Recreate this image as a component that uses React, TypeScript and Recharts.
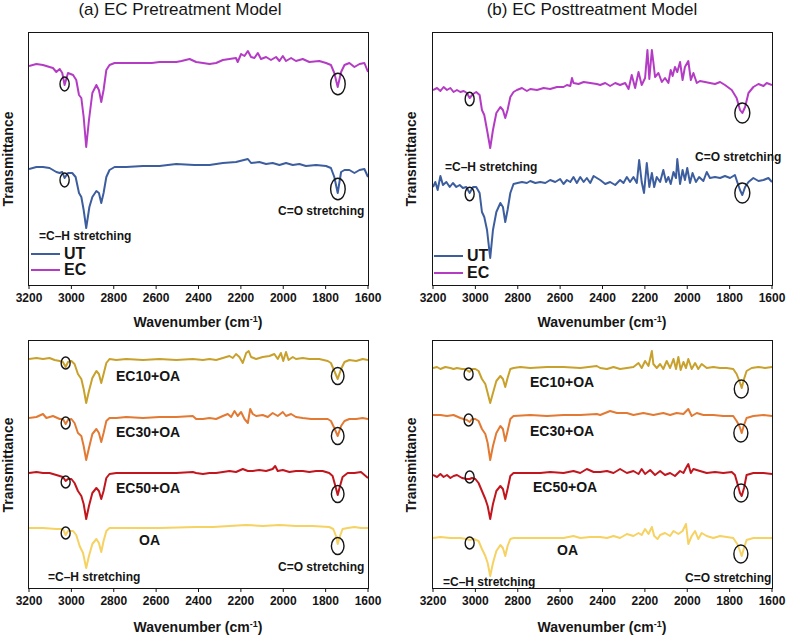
import React from 'react'
import { LineChart, Line, XAxis, YAxis, ReferenceDot } from 'recharts'

// FTIR spectra, wavenumber (cm-1) vs. stacked transmittance (a.u., offset per trace)
const TICKS = [3200, 3000, 2800, 2600, 2400, 2200, 2000, 1800, 1600]

// (a) pretreatment, upper panel
const UT_A: [number, number][] = [
  [3200, 116], [3165, 118], [3134, 118], [3103, 117], [3071, 113], [3055, 112], [3043, 113], [3032, 107],
  [3016, 112], [2996, 112], [2980, 108], [2964, 92], [2953, 88], [2942, 75], [2930, 57], [2915, 78],
  [2901, 88], [2882, 94], [2870, 92], [2859, 82], [2848, 92], [2835, 108], [2820, 115], [2796, 118],
  [2741, 118], [2662, 119], [2584, 119], [2505, 121], [2420, 120], [2348, 120], [2285, 122], [2223, 123],
  [2167, 126], [2152, 122], [2113, 123], [2081, 121], [2050, 122], [2018, 120], [1987, 122], [1955, 120],
  [1924, 121], [1893, 119], [1845, 120], [1798, 119], [1775, 117], [1759, 108], [1743, 92], [1727, 113],
  [1711, 115], [1688, 115], [1664, 112], [1640, 115], [1617, 116], [1600, 108],
]
const EC_A: [number, number][] = [
  [3200, 219], [3165, 221], [3134, 220], [3103, 218], [3087, 217], [3071, 213], [3055, 216], [3043, 212],
  [3032, 200], [3016, 212], [2992, 210], [2977, 205], [2964, 190], [2953, 187], [2942, 168], [2930, 138],
  [2917, 165], [2901, 192], [2882, 200], [2870, 195], [2859, 183], [2848, 195], [2835, 215], [2820, 220],
  [2796, 222], [2741, 222], [2662, 222], [2620, 222], [2584, 223], [2505, 223], [2480, 224], [2442, 226],
  [2411, 223], [2379, 222], [2348, 221], [2317, 222], [2285, 225], [2254, 226], [2223, 227], [2215, 223],
  [2199, 231], [2183, 229], [2167, 234], [2152, 228], [2136, 227], [2120, 232], [2105, 226], [2081, 228],
  [2058, 225], [2034, 228], [2018, 224], [2002, 229], [1987, 224], [1963, 227], [1940, 224], [1908, 226],
  [1877, 223], [1830, 224], [1798, 222], [1775, 220], [1759, 212], [1743, 198], [1727, 213], [1711, 220],
  [1688, 222], [1664, 218], [1640, 221], [1617, 222], [1600, 213],
]

// (b) posttreatment, upper panel
const UT_B: [number, number][] = [
  [3200, 98], [3189, 103], [3178, 95], [3165, 109], [3153, 100], [3137, 103], [3121, 98], [3106, 102],
  [3090, 98], [3074, 100], [3059, 97], [3043, 98], [3027, 92], [3011, 98], [2996, 98], [2980, 92],
  [2969, 73], [2958, 68], [2945, 55], [2930, 27], [2917, 55], [2901, 73], [2882, 82], [2870, 78],
  [2859, 63], [2848, 75], [2835, 92], [2820, 101], [2801, 102], [2780, 103], [2757, 102], [2741, 104],
  [2717, 102], [2694, 103], [2670, 102], [2647, 105], [2623, 103], [2600, 106], [2584, 101], [2568, 105],
  [2552, 103], [2537, 108], [2521, 102], [2505, 108], [2489, 103], [2474, 107], [2458, 102], [2442, 109],
  [2411, 105], [2387, 101], [2364, 103], [2340, 100], [2317, 105], [2301, 102], [2285, 108], [2270, 103],
  [2254, 108], [2238, 102], [2227, 125], [2215, 103], [2204, 92], [2191, 122], [2179, 98], [2167, 112],
  [2156, 98], [2144, 108], [2128, 103], [2113, 115], [2100, 103], [2089, 108], [2078, 101], [2065, 113],
  [2053, 107], [2047, 126], [2034, 101], [2022, 115], [2011, 105], [2000, 117], [1987, 102], [1975, 112],
  [1959, 103], [1944, 108], [1924, 104], [1908, 113], [1893, 107], [1869, 108], [1845, 107], [1822, 109],
  [1798, 107], [1775, 110], [1764, 103], [1751, 95], [1740, 90], [1727, 98], [1711, 103], [1688, 107],
  [1664, 104], [1640, 105], [1617, 107], [1600, 103],
]
const EC_B: [number, number][] = [
  [3200, 195], [3181, 197], [3165, 194], [3150, 198], [3134, 195], [3118, 197], [3103, 193], [3087, 195],
  [3071, 193], [3055, 194], [3040, 192], [3027, 187], [3011, 191], [2996, 193], [2980, 190], [2969, 175],
  [2958, 170], [2945, 155], [2930, 137], [2917, 155], [2901, 172], [2882, 178], [2870, 175], [2859, 167],
  [2848, 175], [2835, 188], [2820, 193], [2804, 195], [2780, 197], [2757, 194], [2741, 196], [2709, 195],
  [2678, 197], [2647, 196], [2615, 198], [2584, 198], [2568, 200], [2552, 199], [2544, 207], [2537, 202],
  [2513, 201], [2489, 203], [2458, 202], [2427, 201], [2411, 200], [2387, 202], [2364, 199], [2340, 202],
  [2317, 200], [2293, 202], [2277, 196], [2262, 210], [2246, 197], [2230, 213], [2215, 200], [2199, 207],
  [2188, 235], [2179, 206], [2167, 235], [2160, 223], [2152, 208], [2136, 212], [2120, 203], [2105, 207],
  [2089, 202], [2078, 215], [2069, 209], [2058, 218], [2047, 213], [2034, 223], [2022, 205], [2011, 218],
  [1995, 224], [1983, 205], [1971, 212], [1955, 202], [1940, 204], [1916, 203], [1893, 202], [1869, 201],
  [1845, 203], [1822, 200], [1790, 195], [1767, 187], [1751, 175], [1740, 172], [1727, 178], [1711, 192],
  [1688, 198], [1664, 201], [1640, 199], [1625, 202], [1600, 200],
]

// (a) pretreatment, lower panel (EC + oleic acid blends)
const EC10_A: [number, number][] = [
  [3200, 229], [3165, 230], [3134, 229], [3103, 230], [3079, 228], [3055, 227], [3040, 226], [3027, 221],
  [3016, 226], [3000, 227], [2985, 224], [2969, 214], [2953, 209], [2942, 199], [2930, 185], [2917, 197],
  [2901, 210], [2882, 217], [2870, 214], [2859, 205], [2848, 214], [2835, 225], [2820, 229], [2788, 228],
  [2741, 229], [2662, 228], [2584, 229], [2505, 228], [2427, 229], [2379, 228], [2348, 229], [2317, 228],
  [2285, 230], [2254, 232], [2238, 230], [2223, 234], [2207, 231], [2191, 225], [2175, 235], [2163, 237],
  [2152, 231], [2128, 229], [2097, 231], [2065, 232], [2042, 234], [2026, 229], [2011, 235], [2000, 227],
  [1987, 236], [1975, 228], [1955, 231], [1940, 229], [1908, 230], [1877, 229], [1830, 229], [1790, 227],
  [1775, 225], [1759, 217], [1743, 209], [1727, 219], [1711, 226], [1688, 228], [1656, 227], [1625, 229],
  [1600, 228],
]
const EC30_A: [number, number][] = [
  [3200, 170], [3165, 171], [3134, 174], [3118, 170], [3087, 172], [3055, 169], [3040, 169], [3027, 164],
  [3016, 168], [3000, 169], [2985, 165], [2969, 155], [2953, 152], [2942, 142], [2930, 128], [2917, 140],
  [2901, 154], [2882, 159], [2870, 155], [2859, 146], [2848, 155], [2835, 167], [2820, 170], [2788, 170],
  [2741, 171], [2662, 170], [2584, 171], [2505, 171], [2427, 172], [2411, 169], [2379, 169], [2348, 170],
  [2317, 169], [2285, 172], [2262, 174], [2246, 171], [2230, 177], [2215, 172], [2199, 176], [2183, 169],
  [2167, 165], [2156, 179], [2144, 174], [2128, 172], [2097, 173], [2073, 171], [2050, 175], [2026, 172],
  [2002, 176], [1987, 172], [1963, 174], [1940, 171], [1908, 170], [1869, 169], [1830, 169], [1790, 169],
  [1775, 167], [1759, 160], [1743, 152], [1727, 162], [1711, 167], [1688, 169], [1656, 169], [1625, 170],
  [1600, 169],
]
const EC50_A: [number, number][] = [
  [3200, 115], [3165, 116], [3134, 115], [3103, 115], [3071, 113], [3040, 111], [3027, 107], [3016, 109],
  [3000, 109], [2985, 105], [2969, 97], [2953, 92], [2942, 84], [2930, 69], [2917, 82], [2901, 95],
  [2882, 100], [2870, 97], [2859, 89], [2848, 97], [2835, 110], [2820, 114], [2788, 115], [2741, 115],
  [2662, 115], [2584, 115], [2505, 115], [2427, 116], [2411, 115], [2379, 114], [2348, 115], [2317, 115],
  [2285, 116], [2254, 117], [2223, 116], [2191, 119], [2167, 117], [2144, 117], [2113, 118], [2081, 117],
  [2050, 119], [2038, 122], [2026, 117], [2002, 118], [1971, 116], [1940, 117], [1908, 117], [1877, 116],
  [1845, 117], [1814, 117], [1783, 115], [1767, 112], [1754, 102], [1743, 93], [1732, 102], [1720, 111],
  [1696, 115], [1664, 115], [1633, 116], [1600, 110],
]
const OA_A: [number, number][] = [
  [3200, 60], [3134, 60], [3071, 59], [3040, 59], [3027, 53], [3016, 57], [2992, 57], [2977, 53],
  [2961, 42], [2945, 35], [2930, 20], [2917, 32], [2901, 44], [2882, 49], [2870, 45], [2859, 36],
  [2848, 47], [2835, 57], [2820, 60], [2741, 60], [2584, 60], [2411, 61], [2332, 61], [2254, 62],
  [2175, 63], [2097, 62], [2018, 63], [1940, 62], [1861, 62], [1783, 61], [1764, 59], [1751, 52],
  [1743, 44], [1732, 52], [1720, 59], [1696, 60], [1664, 61], [1633, 60], [1600, 60],
]

// (b) posttreatment, lower panel
const EC10_B: [number, number][] = [
  [3200, 220], [3181, 221], [3165, 219], [3142, 221], [3118, 220], [3103, 219], [3087, 220], [3063, 219],
  [3048, 219], [3027, 216], [3016, 219], [3000, 219], [2985, 217], [2969, 209], [2953, 204], [2942, 195],
  [2930, 185], [2917, 195], [2901, 207], [2882, 212], [2870, 209], [2859, 201], [2848, 210], [2835, 219],
  [2820, 220], [2788, 221], [2741, 220], [2662, 221], [2584, 221], [2505, 220], [2427, 222], [2411, 220],
  [2379, 219], [2348, 221], [2317, 219], [2285, 220], [2254, 221], [2230, 225], [2215, 220], [2199, 227],
  [2183, 222], [2167, 237], [2160, 224], [2144, 220], [2128, 224], [2113, 219], [2097, 227], [2081, 220],
  [2065, 229], [2053, 219], [2042, 231], [2031, 218], [2018, 226], [2006, 220], [1995, 229], [1979, 219],
  [1963, 225], [1948, 219], [1932, 224], [1908, 220], [1877, 221], [1845, 220], [1814, 220], [1783, 219],
  [1767, 214], [1754, 207], [1743, 200], [1732, 209], [1720, 217], [1696, 220], [1664, 221], [1633, 220],
  [1600, 221],
]
const EC30_B: [number, number][] = [
  [3200, 173], [3165, 173], [3134, 172], [3103, 173], [3071, 170], [3040, 168], [3027, 166], [3016, 169],
  [3000, 169], [2985, 167], [2969, 159], [2953, 154], [2942, 145], [2930, 128], [2917, 142], [2901, 155],
  [2882, 162], [2870, 159], [2859, 147], [2848, 157], [2835, 169], [2820, 172], [2741, 173], [2662, 172],
  [2584, 173], [2505, 173], [2427, 174], [2411, 173], [2364, 177], [2332, 175], [2285, 175], [2254, 173],
  [2207, 175], [2160, 173], [2113, 175], [2081, 173], [2050, 175], [2018, 174], [1995, 179], [1979, 172],
  [1955, 175], [1924, 173], [1877, 173], [1830, 172], [1783, 172], [1767, 167], [1754, 162], [1743, 155],
  [1732, 163], [1720, 170], [1688, 172], [1640, 173], [1600, 172],
]
const EC50_B: [number, number][] = [
  [3200, 113], [3181, 111], [3165, 114], [3150, 111], [3134, 113], [3118, 110], [3103, 112], [3087, 113],
  [3063, 110], [3040, 109], [3027, 109], [3016, 110], [3000, 109], [2985, 105], [2969, 97], [2953, 89],
  [2942, 82], [2930, 69], [2917, 84], [2901, 97], [2882, 102], [2870, 99], [2859, 89], [2848, 99],
  [2835, 112], [2820, 115], [2788, 115], [2741, 115], [2694, 115], [2647, 116], [2584, 115], [2537, 117],
  [2505, 115], [2474, 119], [2442, 116], [2411, 116], [2379, 117], [2348, 115], [2317, 119], [2285, 115],
  [2254, 117], [2230, 114], [2215, 119], [2199, 114], [2175, 118], [2152, 113], [2128, 117], [2105, 113],
  [2081, 115], [2058, 112], [2034, 117], [2018, 115], [2006, 120], [1995, 124], [1983, 115], [1971, 119],
  [1940, 117], [1908, 115], [1869, 116], [1830, 115], [1790, 116], [1775, 113], [1764, 105], [1751, 95],
  [1743, 92], [1732, 100], [1720, 113], [1688, 115], [1640, 115], [1600, 114],
]
const OA_B: [number, number][] = [
  [3200, 50], [3165, 51], [3118, 50], [3071, 50], [3040, 49], [3027, 48], [3008, 49], [2985, 47],
  [2969, 39], [2953, 32], [2942, 25], [2930, 12], [2917, 25], [2901, 37], [2882, 43], [2870, 40],
  [2859, 32], [2848, 42], [2835, 49], [2820, 50], [2741, 50], [2662, 50], [2584, 50], [2537, 52],
  [2505, 50], [2458, 51], [2411, 51], [2379, 50], [2348, 52], [2317, 50], [2285, 54], [2254, 52],
  [2230, 55], [2215, 53], [2199, 59], [2183, 54], [2167, 61], [2156, 52], [2140, 49], [2128, 53],
  [2105, 55], [2081, 52], [2065, 57], [2042, 54], [2022, 57], [2006, 64], [1995, 44], [1979, 52],
  [1963, 57], [1948, 49], [1932, 55], [1908, 52], [1877, 50], [1845, 52], [1814, 51], [1783, 50],
  [1764, 44], [1751, 37], [1743, 32], [1732, 40], [1720, 48], [1688, 50], [1640, 50], [1600, 50],
]

// ring markers on the =C–H (≈3030) and C=O (≈1745) bands
const CH_A: [number, number][] = [[3032, 201], [3032, 105]]
const CO_A: [number, number][] = [[1742, 201], [1742, 96]]
const CH_B: [number, number][] = [[3027, 186], [3027, 91]]
const CO_B: [number, number][] = [[1740, 172], [1740, 92]]
const CH_A2: [number, number][] = [[3027, 225], [3027, 165], [3027, 106], [3027, 55]]
const CO_A2: [number, number][] = [[1743, 212], [1743, 152], [1743, 94], [1743, 42]]
const CH_B2: [number, number][] = [[3032, 214], [3032, 168], [3027, 111], [3027, 45]]
const CO_B2: [number, number][] = [[1745, 199], [1747, 155], [1746, 95], [1747, 34]]

const C = {
  ut: '#3d5e9e',
  ec: '#b43cc4',
  ec10: '#c8a12c',
  ec30: '#e27a33',
  ec50: '#c2161f',
  oa: '#f5d262',
}

const FONT = '"Liberation Sans", Arial, Helvetica, sans-serif'
const PLOT_W = 339
const SIDE = 26 // room for the end tick labels

type Trace = { name: string; color: string; pts: [number, number][] }

const toRows = (pts: [number, number][]) => pts.map(([wn, t]) => ({ wn, t }))

const ring = (rx: number, ry: number) => (p: any) => (
  <ellipse cx={p.cx} cy={p.cy} rx={rx} ry={ry} fill="none" stroke="#151515" strokeWidth={1.4} />
)

function Panel({
  left, top, h, traces, ch, co, chR, coR,
}: {
  left: number; top: number; h: number; traces: Trace[]
  ch: [number, number][]; co: [number, number][]
  chR: [number, number]; coR: [number, number]
}) {
  return (
    <>
      <div style={{ position: 'absolute', left: left - SIDE, top: top - 2 }}>
        <LineChart width={PLOT_W + 2 * SIDE} height={h + 34} margin={{ top: 2, right: SIDE, bottom: 2, left: SIDE }}>
          <XAxis
            dataKey="wn"
            type="number"
            domain={[1600, 3200]}
            reversed
            ticks={TICKS}
            allowDataOverflow
            height={30}
            axisLine={false}
            tickLine={{ stroke: '#151515' }}
            tickSize={4}
            tickMargin={4}
            tick={{ fill: '#151515', fontSize: 12, fontWeight: 700, fontFamily: FONT }}
            interval={0}
          />
          <YAxis hide type="number" domain={[0, h]} allowDataOverflow />
          {traces.map((s) => (
            <Line
              key={s.name}
              data={toRows(s.pts)}
              dataKey="t"
              name={s.name}
              stroke={s.color}
              strokeWidth={2}
              strokeLinejoin="round"
              dot={false}
              type="linear"
              isAnimationActive={false}
            />
          ))}
          {ch.map(([wn, t], i) => (
            <ReferenceDot key={'ch' + i} x={wn} y={t} ifOverflow="visible" shape={ring(chR[0], chR[1])} />
          ))}
          {co.map(([wn, t], i) => (
            <ReferenceDot key={'co' + i} x={wn} y={t} ifOverflow="visible" shape={ring(coR[0], coR[1])} />
          ))}
        </LineChart>
      </div>
      {/* plot frame */}
      <div
        style={{
          position: 'absolute', left: left - 1, top: top - 1, width: PLOT_W + 2, height: h + 2,
          border: '1.8px solid #151515', boxSizing: 'border-box', pointerEvents: 'none',
        }}
      />
    </>
  )
}

function Txt({
  x, y, size = 12, bold = true, center = false, children,
}: {
  x: number; y: number; size?: number; bold?: boolean; center?: boolean; children: React.ReactNode
}) {
  return (
    <div
      style={{
        position: 'absolute', left: x, top: y, whiteSpace: 'nowrap', lineHeight: 1,
        fontSize: size, fontWeight: bold ? 700 : 400, color: '#151515',
        transform: center ? 'translate(-50%, -50%)' : 'translateY(-50%)',
      }}
    >
      {children}
    </div>
  )
}

function YTitle({ x, y }: { x: number; y: number }) {
  return (
    <div
      style={{
        position: 'absolute', left: x, top: y, whiteSpace: 'nowrap', lineHeight: 1,
        fontSize: 14, fontWeight: 700, color: '#151515',
        transform: 'translate(-50%, -50%) rotate(-90deg)',
      }}
    >
      Transmittance
    </div>
  )
}

function XTitle({ x, y }: { x: number; y: number }) {
  return (
    <Txt x={x} y={y} size={14} center>
      Wavenumber (cm<sup style={{ fontSize: 9, verticalAlign: 5 }}>-1</sup>)
    </Txt>
  )
}

function LegendKey({ x, y, color, label }: { x: number; y: number; color: string; label: string }) {
  return (
    <div style={{ position: 'absolute', left: x, top: y, transform: 'translateY(-50%)', display: 'flex', alignItems: 'center' }}>
      <span style={{ display: 'inline-block', width: 29, height: 2, background: color, marginRight: 4 }} />
      <span style={{ fontSize: 16, fontWeight: 700, lineHeight: 1, color: '#151515' }}>{label}</span>
    </div>
  )
}

export default function App() {
  const topA: Trace[] = [
    { name: 'UT', color: C.ut, pts: UT_A },
    { name: 'EC', color: C.ec, pts: EC_A },
  ]
  const topB: Trace[] = [
    { name: 'UT', color: C.ut, pts: UT_B },
    { name: 'EC', color: C.ec, pts: EC_B },
  ]
  const lowA: Trace[] = [
    { name: 'EC10+OA', color: C.ec10, pts: EC10_A },
    { name: 'EC30+OA', color: C.ec30, pts: EC30_A },
    { name: 'EC50+OA', color: C.ec50, pts: EC50_A },
    { name: 'OA', color: C.oa, pts: OA_A },
  ]
  const lowB: Trace[] = [
    { name: 'EC10+OA', color: C.ec10, pts: EC10_B },
    { name: 'EC30+OA', color: C.ec30, pts: EC30_B },
    { name: 'EC50+OA', color: C.ec50, pts: EC50_B },
    { name: 'OA', color: C.oa, pts: OA_B },
  ]

  return (
    <div
      style={{
        position: 'absolute', left: 0, top: 0, width: 787, height: 637,
        background: '#fff', fontFamily: FONT, overflow: 'hidden',
      }}
    >
      <Txt x={180} y={9} size={17} bold={false} center>(a) EC Pretreatment Model</Txt>
      <Txt x={592} y={9} size={17} bold={false} center>(b) EC Posttreatment Model</Txt>

      <Panel left={29} top={33} h={252} traces={topA} ch={CH_A} co={CO_A} chR={[4.6, 7]} coR={[7.3, 10.8]} />
      <Panel left={433} top={33} h={252} traces={topB} ch={CH_B} co={CO_B} chR={[4.5, 6.7]} coR={[7.5, 10]} />
      <Panel left={29} top={341} h={247} traces={lowA} ch={CH_A2} co={CO_A2} chR={[4.5, 6]} coR={[6.3, 8.5]} />
      <Panel left={433} top={341} h={247} traces={lowB} ch={CH_B2} co={CO_B2} chR={[4.5, 6]} coR={[7, 9]} />

      <YTitle x={8} y={159} />
      <YTitle x={411} y={159} />
      <YTitle x={8} y={465} />
      <YTitle x={411} y={465} />

      <XTitle x={198} y={322} />
      <XTitle x={602} y={322} />
      <XTitle x={198} y={627} />
      <XTitle x={602} y={627} />

      {/* band annotations */}
      <Txt x={39} y={236}>=C–H stretching</Txt>
      <Txt x={278} y={211}>C=O stretching</Txt>
      <Txt x={445} y={167}>=C–H stretching</Txt>
      <Txt x={695} y={157}>C=O stretching</Txt>
      <Txt x={48} y={577}>=C–H stretching</Txt>
      <Txt x={278} y={567}>C=O stretching</Txt>
      <Txt x={443} y={582}>=C–H stretching</Txt>
      <Txt x={685} y={578}>C=O stretching</Txt>

      {/* legends, upper panels */}
      <LegendKey x={31} y={254} color={C.ut} label="UT" />
      <LegendKey x={31} y={270} color={C.ec} label="EC" />
      <LegendKey x={434} y={256} color={C.ut} label="UT" />
      <LegendKey x={434} y={273} color={C.ec} label="EC" />

      {/* trace names, lower panels */}
      <Txt x={116} y={376} size={14}>EC10+OA</Txt>
      <Txt x={116} y={432} size={14}>EC30+OA</Txt>
      <Txt x={116} y={488} size={14}>EC50+OA</Txt>
      <Txt x={139} y={540} size={14}>OA</Txt>
      <Txt x={530} y={382} size={14}>EC10+OA</Txt>
      <Txt x={530} y={431} size={14}>EC30+OA</Txt>
      <Txt x={533} y={487} size={14}>EC50+OA</Txt>
      <Txt x={557} y={550} size={14}>OA</Txt>
    </div>
  )
}
